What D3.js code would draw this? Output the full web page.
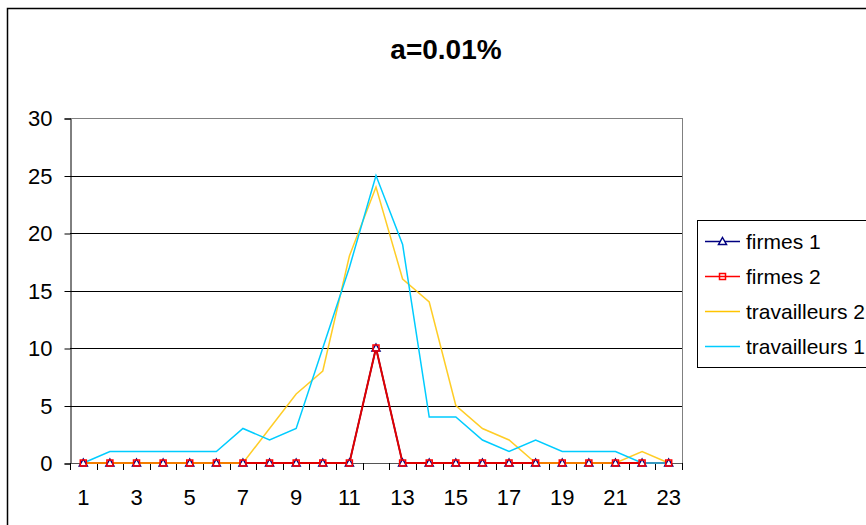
<!DOCTYPE html>
<html>
<head>
<meta charset="utf-8">
<script src="https://cdn.jsdelivr.net/npm/d3@7"></script>
<style>
html, body { margin: 0; padding: 0; background: #fff; }
svg { display: block; font-family: "Liberation Sans", Arial, sans-serif; }
</style>
</head>
<body>
<svg id="chart" width="866" height="525"></svg>
<script>
const title = "a=0.01%";
const categories = [1,2,3,4,5,6,7,8,9,10,11,12,13,14,15,16,17,18,19,20,21,22,23];
const firmes1 =      [0,0,0,0,0,0,0,0,0,0,0,10,0,0,0,0,0,0,0,0,0,0,0];
const firmes2 =      [0,0,0,0,0,0,0,0,0,0,0,10,0,0,0,0,0,0,0,0,0,0,0];
const travailleurs2 = [0,0,0,0,0,0,0,3,6,8,18,24,16,14,5,3,2,0,0,0,0,1,0];
const travailleurs1 = [0,1,1,1,1,1,3,2,3,10,17,25,19,4,4,2,1,2,1,1,1,0,0];
const yTicks = [0,5,10,15,20,25,30];
const xTickLabels = [1,3,5,7,9,11,13,15,17,19,21,23];

const series = [
  { name: "firmes 1", values: firmes1, color: "#000080", width: 1.5, marker: "triangle" },
  { name: "firmes 2", values: firmes2, color: "#E00000", width: 2, marker: "square" },
  { name: "travailleurs 2", values: travailleurs2, color: "#FFC400", width: 1.5, marker: null, opacity: 0.85 },
  { name: "travailleurs 1", values: travailleurs1, color: "#00CCFF", width: 1.5, marker: null }
];

const svg = d3.select("#chart");
const W = 866, H = 525;
const plot = { left: 70, right: 682, top: 118, bottom: 463 };

// outer border
svg.append("rect").attr("x", 7.5).attr("y", 8.5).attr("width", 920).attr("height", 600)
  .attr("fill", "#fff").attr("stroke", "#000").attr("stroke-width", 1.5);

// title
svg.append("text").attr("x", 446).attr("y", 59).attr("text-anchor", "middle")
  .attr("font-size", 28).attr("font-weight", "bold").attr("fill", "#000").text(title);

const x = d3.scaleBand().domain(categories).range([plot.left, plot.right]).padding(0);
const y = d3.scaleLinear().domain([0, 30]).range([plot.bottom, plot.top]);
const cx = c => x(c) + x.bandwidth() / 2;

// gridlines
svg.append("g").selectAll("line").data(yTicks.filter(t => t > 0)).join("line")
  .attr("x1", plot.left).attr("x2", plot.right)
  .attr("y1", d => Math.round(y(d)) + 0.5).attr("y2", d => Math.round(y(d)) + 0.5)
  .attr("stroke", d => d === 30 ? "#808080" : "#000").attr("stroke-width", 1);

// plot right border
svg.append("line").attr("x1", plot.right + 0.5).attr("x2", plot.right + 0.5)
  .attr("y1", plot.top).attr("y2", plot.bottom).attr("stroke", "#808080");

// y axis
const yAxis = d3.axisLeft(y).tickValues(yTicks).tickSize(6).tickPadding(12).tickFormat(d3.format("d"));
const gy = svg.append("g").attr("transform", `translate(${plot.left + 0.5},0.5)`).call(yAxis);
gy.select(".domain").attr("stroke", "#000");
gy.selectAll(".tick line").attr("stroke", "#000");
gy.selectAll(".tick text").attr("font-size", 22).attr("fill", "#000")
  .attr("font-family", "'Liberation Sans', Arial, sans-serif");

// x axis: ticks at band boundaries
const bounds = categories.map(c => x(c)).concat([plot.right]);
svg.append("line").attr("x1", plot.left).attr("x2", plot.right)
  .attr("y1", plot.bottom + 0.5).attr("y2", plot.bottom + 0.5).attr("stroke", "#555");
svg.append("g").selectAll("line").data(bounds).join("line")
  .attr("x1", d => Math.round(d) + 0.5).attr("x2", d => Math.round(d) + 0.5)
  .attr("y1", plot.bottom).attr("y2", plot.bottom + 7).attr("stroke", "#000");
svg.append("g").selectAll("text").data(xTickLabels).join("text")
  .attr("x", d => cx(d)).attr("y", 505).attr("text-anchor", "middle")
  .attr("font-size", 22).attr("fill", "#000").text(d => d);

// lines
const line = d3.line().x((d, i) => cx(categories[i])).y(d => y(d));
series.forEach(s => {
  svg.append("path").datum(s.values).attr("d", line)
    .attr("fill", "none").attr("stroke", s.color).attr("stroke-width", s.width)
    .attr("stroke-opacity", s.opacity || 1).attr("stroke-linejoin", "miter");
});

// markers
function drawMarker(g, type, px, py, color) {
  if (type === "triangle") {
    g.append("path").attr("d", `M${px},${py - 4}L${px + 4},${py + 3}L${px - 4},${py + 3}Z`)
      .attr("fill", "#fff").attr("stroke", color).attr("stroke-width", 1.5);
  } else if (type === "square") {
    g.append("rect").attr("x", px - 3).attr("y", py - 3).attr("width", 6).attr("height", 6)
      .attr("fill", "none").attr("stroke", color).attr("stroke-width", 1.5);
  }
}
const mk = svg.append("g");
series.forEach(s => {
  if (!s.marker) return;
  s.values.forEach((v, i) => drawMarker(mk, s.marker, cx(categories[i]), y(v), s.marker === "square" ? "#FF0000" : s.color));
});

// legend
const lg = svg.append("g");
lg.append("rect").attr("x", 697.5).attr("y", 220.5).attr("width", 200).attr("height", 147)
  .attr("fill", "#fff").attr("stroke", "#000").attr("stroke-width", 1);
series.forEach((s, i) => {
  const ly = 241 + i * 35;
  lg.append("line").attr("x1", 705).attr("x2", 740).attr("y1", ly + 0.5).attr("y2", ly + 0.5)
    .attr("stroke", s.marker === "square" ? "#FF0000" : s.color).attr("stroke-width", 1.5);
  if (s.marker) drawMarker(lg, s.marker, 722.5, ly + 0.5, s.marker === "square" ? "#FF0000" : s.color);
  lg.append("text").attr("x", 746).attr("y", ly).attr("dy", "0.36em")
    .attr("font-size", 21).attr("fill", "#000").text(s.name);
});
</script>
</body>
</html>
